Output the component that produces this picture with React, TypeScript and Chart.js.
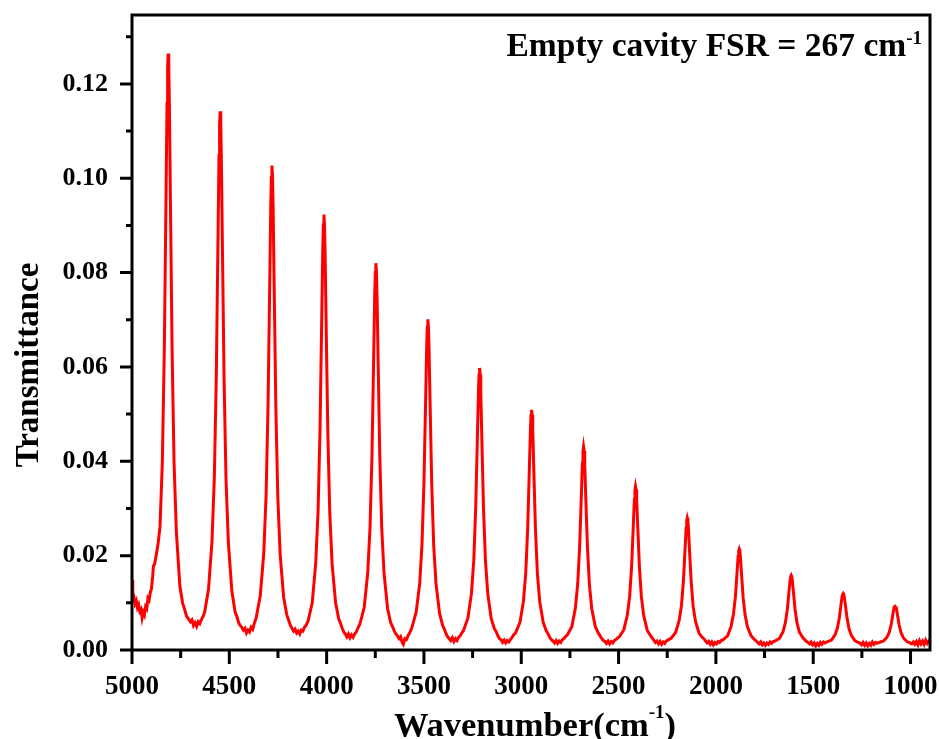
import React, { useEffect, useRef } from 'react';
import { Chart, registerables } from 'chart.js';

Chart.register(...registerables);

// ---- axis / tick data ----
const xMajorTicks = [5000, 4500, 4000, 3500, 3000, 2500, 2000, 1500, 1000];
const xMinorTicks = [4750, 4250, 3750, 3250, 2750, 2250, 1750, 1250];
const yMajorTicks = [0, 0.02, 0.04, 0.06, 0.08, 0.1, 0.12];
const yMinorTicks = [0.01, 0.03, 0.05, 0.07, 0.09, 0.11, 0.13];
const xMin = 900;
const xMax = 5000;
const yMin = 0;
const yMax = 0.1346;

const yTitle = 'Transmittance';
const xTitleMain = 'Wavenumber(cm';
const xTitleSup = '-1';
const xTitleEnd = ')';
const noteMain = 'Empty cavity FSR = 267 cm';
const noteSup = '-1';

// ---- spectrum (wavenumber cm^-1, transmittance) ----
const leadIn: [number, number][] = [
  [5000, 0.0148], [4996, 0.0108], [4990, 0.0112], [4984, 0.0098], [4978, 0.0104], [4972, 0.009],
  [4966, 0.0096], [4960, 0.0082], [4954, 0.0086], [4948, 0.0068], [4942, 0.008], [4936, 0.0074],
  [4930, 0.0092], [4924, 0.0088], [4918, 0.011], [4912, 0.0106], [4906, 0.0122], [4900, 0.013],
  [4894, 0.0155], [4890, 0.0178], [4884, 0.0182],
];
const peak1: [number, number][] = [
  [4876, 0.02], [4866, 0.0225], [4856, 0.0262], [4844, 0.04], [4834, 0.0636], [4826, 0.0929],
  [4820, 0.1159], [4817, 0.1235], [4814, 0.1264], [4811, 0.1238], [4808, 0.116], [4802, 0.093],
  [4794, 0.0636], [4784, 0.0398], [4772, 0.025], [4754, 0.0135], [4740, 0.01], [4729, 0.0085],
];
const gap1: [number, number][] = [
  [4720, 0.0072], [4710, 0.0066], [4700, 0.006], [4692, 0.0064], [4684, 0.0052], [4676, 0.0058],
  [4668, 0.005], [4660, 0.006], [4652, 0.0056], [4644, 0.0064], [4636, 0.007],
];
const peak2: [number, number][] = [
  [4627, 0.008], [4607, 0.0128], [4589, 0.023], [4577, 0.0365], [4567, 0.0578], [4559, 0.0842],
  [4553, 0.1048], [4550, 0.1115], [4547, 0.1142], [4544, 0.1117], [4541, 0.1046], [4535, 0.084],
  [4527, 0.0576], [4517, 0.0362], [4505, 0.0228], [4487, 0.0125], [4470, 0.008], [4462, 0.0072],
];
const gap2: [number, number][] = [
  [4452, 0.0058], [4444, 0.0052], [4436, 0.0048], [4428, 0.0042], [4420, 0.0046], [4412, 0.0036],
  [4404, 0.0042], [4396, 0.0038], [4388, 0.0048], [4380, 0.0044], [4372, 0.0056],
];
const peak3: [number, number][] = [
  [4362, 0.0068], [4341, 0.0115], [4323, 0.0205], [4311, 0.0328], [4301, 0.052], [4293, 0.0757],
  [4287, 0.0943], [4284, 0.1002], [4281, 0.1027], [4278, 0.1004], [4275, 0.0941], [4269, 0.0754],
  [4261, 0.0516], [4251, 0.0326], [4239, 0.0204], [4221, 0.0112], [4205, 0.0075], [4196, 0.0064],
];
const gap3: [number, number][] = [
  [4186, 0.0052], [4178, 0.0046], [4170, 0.004], [4162, 0.0044], [4154, 0.0036], [4146, 0.004],
  [4138, 0.0034], [4130, 0.0042], [4122, 0.004], [4114, 0.0048], [4106, 0.0052],
];
const peak4: [number, number][] = [
  [4095, 0.0062], [4074, 0.01], [4056, 0.0184], [4044, 0.0294], [4034, 0.0466], [4026, 0.068],
  [4020, 0.0847], [4017, 0.0901], [4014, 0.0923], [4011, 0.0902], [4008, 0.0845], [4002, 0.0677],
  [3994, 0.0463], [3984, 0.0292], [3972, 0.0183], [3954, 0.01], [3938, 0.0066], [3929, 0.0057],
];
const gap4: [number, number][] = [
  [3920, 0.0046], [3912, 0.0038], [3904, 0.0034], [3896, 0.0028], [3888, 0.0034], [3880, 0.0026],
  [3872, 0.0032], [3864, 0.0027], [3856, 0.0034], [3848, 0.0038], [3840, 0.0046],
];
const peak5: [number, number][] = [
  [3830, 0.0054], [3807, 0.009], [3789, 0.0163], [3777, 0.026], [3767, 0.0414], [3759, 0.0604],
  [3753, 0.0752], [3750, 0.08], [3747, 0.082], [3744, 0.0801], [3741, 0.0751], [3735, 0.0602],
  [3727, 0.0411], [3717, 0.0259], [3705, 0.0163], [3687, 0.0088], [3671, 0.0058], [3662, 0.005],
];
const gap5: [number, number][] = [
  [3652, 0.004], [3644, 0.0034], [3636, 0.003], [3628, 0.0024], [3620, 0.0028], [3612, 0.0016],
  [3606, 0.0012], [3598, 0.0024], [3590, 0.0022], [3582, 0.003], [3574, 0.0036],
];
const peak6: [number, number][] = [
  [3563, 0.0046], [3540, 0.008], [3522, 0.014], [3510, 0.0224], [3500, 0.0355], [3492, 0.0516],
  [3486, 0.0643], [3483, 0.0684], [3480, 0.0701], [3477, 0.0685], [3474, 0.0642], [3468, 0.0514],
  [3460, 0.0352], [3450, 0.0222], [3438, 0.014], [3420, 0.0078], [3404, 0.0052], [3395, 0.0044],
];
const gap6: [number, number][] = [
  [3386, 0.0034], [3378, 0.0028], [3370, 0.0024], [3362, 0.002], [3354, 0.0026], [3346, 0.0018],
  [3338, 0.0024], [3330, 0.002], [3322, 0.0027], [3314, 0.003], [3306, 0.0036],
];
const peak7: [number, number][] = [
  [3297, 0.0041], [3274, 0.0068], [3256, 0.012], [3244, 0.019], [3234, 0.0303], [3226, 0.0441],
  [3220, 0.0548], [3217, 0.0583], [3214, 0.0598], [3211, 0.0584], [3208, 0.0547], [3202, 0.0439],
  [3194, 0.03], [3184, 0.0189], [3172, 0.0119], [3154, 0.0066], [3138, 0.0045], [3129, 0.0039],
];
const gap7: [number, number][] = [
  [3120, 0.003], [3112, 0.0024], [3104, 0.0022], [3096, 0.0016], [3088, 0.0021], [3080, 0.0015],
  [3072, 0.002], [3064, 0.0017], [3056, 0.0022], [3048, 0.0026], [3040, 0.0032],
];
const peak8: [number, number][] = [
  [3030, 0.0036], [3007, 0.0058], [2989, 0.0103], [2977, 0.0163], [2967, 0.0258], [2959, 0.0375],
  [2953, 0.0467], [2950, 0.0497], [2947, 0.0509], [2944, 0.0498], [2941, 0.0466], [2935, 0.0373],
  [2927, 0.0255], [2917, 0.0161], [2905, 0.0102], [2887, 0.0058], [2871, 0.004], [2862, 0.0034],
];
const gap8: [number, number][] = [
  [2853, 0.0026], [2845, 0.0022], [2837, 0.0019], [2829, 0.0015], [2821, 0.002], [2813, 0.0014],
  [2805, 0.0019], [2797, 0.0016], [2789, 0.0022], [2781, 0.0024], [2773, 0.0028],
];
const peak9: [number, number][] = [
  [2763, 0.0032], [2740, 0.005], [2722, 0.0089], [2710, 0.014], [2700, 0.022], [2692, 0.0319],
  [2686, 0.0396], [2683, 0.0421], [2680, 0.0431], [2677, 0.0422], [2674, 0.0395], [2668, 0.0316],
  [2660, 0.0218], [2650, 0.0139], [2638, 0.0088], [2620, 0.005], [2604, 0.0036], [2595, 0.003],
];
const gap9: [number, number][] = [
  [2586, 0.0024], [2578, 0.002], [2570, 0.0018], [2562, 0.0014], [2554, 0.0019], [2546, 0.0013],
  [2538, 0.0018], [2530, 0.0015], [2522, 0.002], [2514, 0.0022], [2506, 0.0025],
];
const peak10: [number, number][] = [
  [2496, 0.0028], [2473, 0.0043], [2455, 0.0074], [2443, 0.0114], [2433, 0.0178], [2425, 0.0257],
  [2419, 0.0319], [2416, 0.0339], [2413, 0.0347], [2410, 0.034], [2407, 0.0318], [2401, 0.0256],
  [2393, 0.0177], [2383, 0.0113], [2371, 0.0073], [2353, 0.0042], [2337, 0.0031], [2328, 0.0026],
];
const gap10: [number, number][] = [
  [2319, 0.0021], [2311, 0.0016], [2303, 0.0019], [2295, 0.0013], [2287, 0.0018], [2279, 0.0012],
  [2271, 0.0017], [2263, 0.0014], [2255, 0.0019], [2247, 0.0021], [2239, 0.0023],
];
const peak11: [number, number][] = [
  [2230, 0.0025], [2207, 0.0037], [2189, 0.0062], [2177, 0.0094], [2167, 0.0146], [2159, 0.0209],
  [2153, 0.0258], [2150, 0.0274], [2147, 0.028], [2144, 0.0275], [2141, 0.0257], [2135, 0.0207],
  [2127, 0.0145], [2117, 0.0093], [2105, 0.0061], [2087, 0.0036], [2071, 0.0027], [2062, 0.0024],
];
const gap11: [number, number][] = [
  [2053, 0.0019], [2045, 0.0015], [2037, 0.0018], [2029, 0.0012], [2021, 0.0017], [2013, 0.0011],
  [2005, 0.0016], [1997, 0.0013], [1989, 0.0018], [1981, 0.0016], [1973, 0.002],
];
const peak12: [number, number][] = [
  [1963, 0.0022], [1940, 0.003], [1922, 0.005], [1910, 0.0075], [1900, 0.0112], [1892, 0.016],
  [1886, 0.0198], [1883, 0.021], [1880, 0.0214], [1877, 0.021], [1874, 0.0197], [1868, 0.0159],
  [1860, 0.0111], [1850, 0.0074], [1838, 0.0049], [1820, 0.0031], [1804, 0.0023], [1795, 0.002],
];
const gap12: [number, number][] = [
  [1786, 0.0016], [1778, 0.0013], [1770, 0.0017], [1762, 0.0011], [1754, 0.0015], [1746, 0.001],
  [1738, 0.0015], [1730, 0.0012], [1722, 0.0017], [1714, 0.0014], [1706, 0.0018],
];
const peak13: [number, number][] = [
  [1696, 0.0019], [1673, 0.0025], [1655, 0.0039], [1643, 0.0058], [1633, 0.0086], [1625, 0.0121],
  [1619, 0.0148], [1616, 0.0155], [1613, 0.0158], [1610, 0.0155], [1607, 0.0147], [1601, 0.012],
  [1593, 0.0085], [1583, 0.0057], [1571, 0.0038], [1553, 0.0026], [1537, 0.0019], [1528, 0.0016],
];
const gap13: [number, number][] = [
  [1519, 0.0013], [1511, 0.0017], [1503, 0.0011], [1495, 0.0015], [1487, 0.0009], [1479, 0.0014],
  [1471, 0.001], [1463, 0.0016], [1455, 0.0012], [1447, 0.0017], [1439, 0.0015],
];
const peak14: [number, number][] = [
  [1429, 0.0017], [1406, 0.0021], [1388, 0.0032], [1376, 0.0046], [1366, 0.0068], [1358, 0.0094],
  [1352, 0.0113], [1349, 0.0118], [1346, 0.012], [1343, 0.0118], [1340, 0.0112], [1334, 0.0093],
  [1326, 0.0067], [1316, 0.0045], [1304, 0.0031], [1286, 0.002], [1270, 0.0016], [1261, 0.0015],
];
const gap14: [number, number][] = [
  [1252, 0.0011], [1244, 0.0016], [1236, 0.001], [1228, 0.0015], [1220, 0.0009], [1212, 0.0014],
  [1204, 0.001], [1196, 0.0017], [1188, 0.0012], [1180, 0.0016], [1172, 0.0014],
];
const peak15: [number, number][] = [
  [1162, 0.0016], [1139, 0.0019], [1121, 0.0027], [1109, 0.0038], [1099, 0.0055], [1091, 0.0075],
  [1085, 0.009], [1082, 0.0092], [1079, 0.0093], [1076, 0.0092], [1073, 0.0089], [1067, 0.0074],
  [1059, 0.0054], [1049, 0.0037], [1037, 0.0026], [1019, 0.0018], [1003, 0.0015], [994, 0.0013],
];
const tail: [number, number][] = [
  [986, 0.0017], [978, 0.0012], [970, 0.0018], [962, 0.0011], [954, 0.002], [946, 0.0013],
  [938, 0.0019], [930, 0.0012], [922, 0.0021], [914, 0.0014], [906, 0.0019], [900, 0.0015],
];

const spectrum: [number, number][] = [
  ...leadIn, ...peak1, ...gap1, ...peak2, ...gap2, ...peak3, ...gap3, ...peak4, ...gap4,
  ...peak5, ...gap5, ...peak6, ...gap6, ...peak7, ...gap7, ...peak8, ...gap8, ...peak9,
  ...gap9, ...peak10, ...gap10, ...peak11, ...gap11, ...peak12, ...gap12, ...peak13,
  ...gap13, ...peak14, ...gap14, ...peak15, ...tail,
];

const FONT = "'Liberation Serif', 'Times New Roman', serif";

const framePlugin = {
  id: 'frame',
  afterDraw(chart: any) {
    const { ctx, chartArea: a } = chart;
    const xs = chart.scales.x;
    const ys = chart.scales.y;
    ctx.save();
    ctx.strokeStyle = '#000';
    ctx.lineWidth = 3;
    ctx.lineCap = 'butt';
    ctx.strokeRect(a.left, a.top, a.right - a.left, a.bottom - a.top);
    ctx.beginPath();
    yMajorTicks.forEach((v) => {
      const p = ys.getPixelForValue(v);
      ctx.moveTo(a.left - 12, p);
      ctx.lineTo(a.left, p);
    });
    yMinorTicks.forEach((v) => {
      const p = ys.getPixelForValue(v);
      ctx.moveTo(a.left - 6, p);
      ctx.lineTo(a.left, p);
    });
    xMajorTicks.forEach((v) => {
      const p = xs.getPixelForValue(v);
      ctx.moveTo(p, a.bottom);
      ctx.lineTo(p, a.bottom + 14);
    });
    xMinorTicks.forEach((v) => {
      const p = xs.getPixelForValue(v);
      ctx.moveTo(p, a.bottom);
      ctx.lineTo(p, a.bottom + 8);
    });
    ctx.stroke();

    ctx.fillStyle = '#000';
    // y title
    ctx.save();
    ctx.translate(38, 365);
    ctx.rotate(-Math.PI / 2);
    ctx.font = `bold 33px ${FONT}`;
    ctx.textAlign = 'center';
    ctx.textBaseline = 'alphabetic';
    ctx.fillText(yTitle, 0, 0);
    ctx.restore();

    // x title with superscript
    const mainFont = `bold 34.5px ${FONT}`;
    const supFont = `bold 19px ${FONT}`;
    ctx.font = mainFont;
    const w1 = ctx.measureText(xTitleMain).width;
    const w3 = ctx.measureText(xTitleEnd).width;
    ctx.font = supFont;
    const w2 = ctx.measureText(xTitleSup).width;
    const total = w1 + w2 + w3;
    const cx = (a.left + a.right) / 2 + 4;
    let sx = cx - total / 2;
    const base = 736;
    ctx.textAlign = 'left';
    ctx.textBaseline = 'alphabetic';
    ctx.font = mainFont;
    ctx.fillText(xTitleMain, sx, base);
    sx += w1;
    ctx.font = supFont;
    ctx.fillText(xTitleSup, sx, base - 18);
    sx += w2;
    ctx.font = mainFont;
    ctx.fillText(xTitleEnd, sx, base);

    // annotation
    const nFont = `bold 33.5px ${FONT}`;
    const nSup = `bold 19px ${FONT}`;
    ctx.font = nSup;
    const ns = ctx.measureText(noteSup).width;
    ctx.font = nFont;
    const nm = ctx.measureText(noteMain).width;
    const right = 922;
    const nb = 56;
    ctx.fillText(noteMain, right - ns - nm, nb);
    ctx.font = nSup;
    ctx.fillText(noteSup, right - ns, nb - 12);
    ctx.restore();
  },
};

export default function App() {
  const ref = useRef<HTMLCanvasElement | null>(null);
  useEffect(() => {
    if (!ref.current) return;
    const chart = new Chart(ref.current, {
      type: 'line',
      data: {
        datasets: [
          {
            data: spectrum.map(([x, y]) => ({ x, y })),
            borderColor: '#ff0000',
            borderWidth: 3,
            pointRadius: 0,
            tension: 0,
            fill: false,
          },
        ],
      },
      options: {
        animation: false,
        responsive: true,
        maintainAspectRatio: false,
        layout: { padding: { left: 0, right: 9, top: 15, bottom: 0 } },
        plugins: { legend: { display: false }, tooltip: { enabled: false } },
        scales: {
          x: {
            type: 'linear',
            reverse: true,
            min: xMin,
            max: xMax,
            afterBuildTicks: (s: any) => {
              s.ticks = xMajorTicks.map((v) => ({ value: v }));
            },
            afterFit: (s: any) => {
              s.height = 89;
              s.paddingLeft = 0;
              s.paddingRight = 0;
              s.paddingTop = 0;
              s.paddingBottom = 0;
            },
            grid: { display: false, drawTicks: false },
            border: { display: false },
            ticks: {
              padding: 21,
              color: '#000',
              font: { family: FONT, size: 27, weight: 'bold' },
              maxRotation: 0,
              autoSkip: false,
              callback: (v: any) => String(v),
            },
          },
          y: {
            type: 'linear',
            min: yMin,
            max: yMax,
            afterBuildTicks: (s: any) => {
              s.ticks = yMajorTicks.map((v) => ({ value: v }));
            },
            afterFit: (s: any) => {
              s.width = 132;
              s.paddingLeft = 0;
              s.paddingRight = 0;
              s.paddingTop = 0;
              s.paddingBottom = 0;
            },
            grid: { display: false, drawTicks: false },
            border: { display: false },
            ticks: {
              padding: 24,
              color: '#000',
              font: { family: FONT, size: 26, weight: 'bold' },
              autoSkip: false,
              callback: (v: any) => Number(v).toFixed(2),
            },
          },
        },
      },
      plugins: [framePlugin],
    });
    return () => chart.destroy();
  }, []);
  return (
    <div style={{ position: 'fixed', left: 0, top: 0, width: 939, height: 739, background: '#fff' }}>
      <canvas ref={ref} />
    </div>
  );
}
